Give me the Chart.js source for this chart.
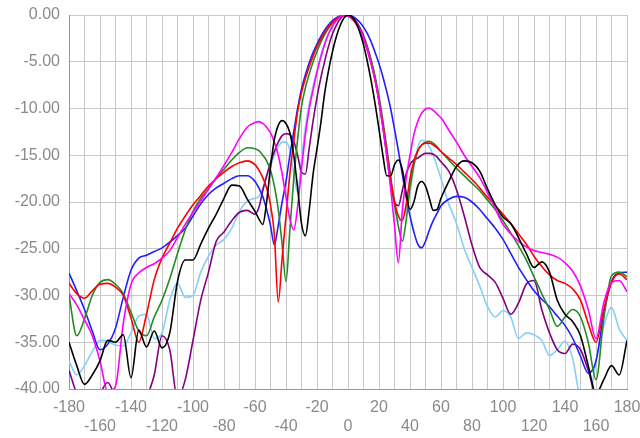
<!DOCTYPE html>
<html lang="en">
<head>
<meta charset="UTF-8">
<title>Radiation pattern</title>
<script src="https://cdn.jsdelivr.net/npm/chart.js@4.4.0/dist/chart.umd.min.js"></script>
<style>
    body { margin: 0; background: #fff; }
    #wrap { width: 640px; height: 438px; }
</style>
</head>
<body>
<div id="wrap"><canvas id="pattern" width="640" height="438"></canvas></div>
<script>
// angle grid (deg): 5 deg steps in the tails, 2.5 deg around the main lobe
const angles = [
    -180, -175, -170, -165, -160, -155, -150, -145, -140, -135, -130, -125, -120,
    -115, -110, -105, -100, -95, -90, -85, -80, -75, -70, -65, -60,
    -57.5, -55, -52.5, -50, -47.5, -45, -42.5, -40, -37.5, -35, -32.5, -30,
    -27.5, -25, -22.5, -20, -17.5, -15, -12.5, -10, -7.5, -5, -2.5, 0,
    2.5, 5, 7.5, 10, 12.5, 15, 17.5, 20, 22.5, 25, 27.5, 30,
    32.5, 35, 37.5, 40, 42.5, 45, 47.5, 50, 52.5, 55, 57.5,
    60, 65, 70, 75, 80, 85, 90, 95, 100, 105, 110, 115, 120,
    125, 130, 135, 140, 145, 150, 155, 160, 165, 170, 175, 180
];

// normalised gain (dB) per trace
const redTrace = [
    -28.7, -29.8, -30.3, -29.5, -28.8, -28.7, -29.1, -30, -32.4, -35, -32, -28.3, -26,
    -24.4, -22.8, -21.5, -20.3, -19.3, -18.3, -17.5, -16.8, -16.2, -15.8, -15.6, -16,
    -16.6, -17.4, -18.5, -20.3, -23.5, -30.7, -26, -21.5, -17, -13.5, -10.3, -8.3,
    -6.8, -5.5, -4.4, -3.4, -2.6, -1.86, -1.26, -0.77, -0.4, -0.15, 0, -0.1,
    -0.4, -0.9, -1.6, -2.6, -3.8, -5.3, -7, -9.2, -11.7, -14.5, -17.5, -20,
    -21.5, -22, -20.3, -17.5, -15.6, -14.5, -13.9, -13.7, -13.7, -13.9, -14.2,
    -14.6, -15.3, -16, -16.8, -17.6, -18.5, -19.5, -20.4, -21.3, -22.3, -23.4, -24.5, -25.8,
    -26.9, -27.8, -28.4, -28.7, -29.3, -30.5, -33, -35, -31.5, -28.6, -27.7, -28.3
];

const greenTrace = [
    -30, -34.3, -32.5, -30, -28.6, -28.3, -28.8, -29.8, -31.8, -33.8, -34.3, -32.3, -30.5,
    -28.2, -25.5, -23, -21, -19.6, -18.6, -17.4, -16.5, -15.5, -14.7, -14.2, -14.3,
    -14.5, -15, -15.6, -16.6, -18.3, -20.8, -24.5, -28.5, -23, -17.5, -13.3, -9.8,
    -7.8, -6.3, -5, -3.9, -2.9, -2.1, -1.4, -0.85, -0.45, -0.15, 0, -0.1,
    -0.35, -0.8, -1.5, -2.4, -3.5, -4.9, -6.6, -8.7, -11.3, -14.2, -17.3, -20.2,
    -22.6, -24.2, -22, -18.5, -16, -14.6, -13.9, -13.6, -13.5, -13.7, -14.1,
    -14.6, -15.5, -16.4, -17.2, -18, -18.8, -19.8, -20.8, -22, -23.3, -24.7, -26.2, -28,
    -29.8, -31.5, -33.3, -32.3, -31.5, -32.3, -35, -39, -32.5, -27.9, -27.5, -28
];

const magentaTrace = [
    -29.8, -31, -32.6, -34.3, -37, -40.3, -39.7, -33, -28.8, -27.6, -27, -26.6, -26,
    -25.2, -23.8, -22.4, -21.1, -19.9, -18.6, -17.4, -16.1, -14.7, -13.2, -12, -11.5,
    -11.4, -11.6, -12, -12.6, -13.6, -15, -17, -19.5, -21.8, -23, -20.5, -16.5,
    -12.8, -10, -8, -6.1, -4.5, -3.1, -2, -1.2, -0.6, -0.2, 0, -0.15,
    -0.3, -0.8, -1.5, -2.5, -3.7, -5.2, -7, -9.3, -12, -15, -18.5, -22.5,
    -26.5, -21, -17.5, -15, -12.8, -11.4, -10.5, -10.05, -9.95, -10.2, -10.6,
    -11, -12.3, -13.6, -15, -16.2, -17.4, -19, -20.7, -22.4, -23.4, -24.2, -24.8, -25.2,
    -25.4, -25.6, -25.9, -26.5, -27.4, -29, -31.5, -34.6, -30.8, -28.6, -28.4, -29.6
];

const blueTrace = [
    -27.6, -29.5, -31.5, -33.8, -35.8, -35.2, -33.5, -30.2, -27.3, -26, -25.7, -25.3, -24.9,
    -24.3, -23.6, -22.8, -21.5, -20.2, -19.2, -18.5, -18, -17.5, -17.2, -17.2, -17.8,
    -18.5, -19.4, -20.8, -22.5, -24.6, -22.5, -20, -17.8, -15, -12.5, -10, -7.9,
    -6.4, -5.1, -4, -3.1, -2.3, -1.6, -1.05, -0.6, -0.3, -0.1, 0, -0.05,
    -0.1, -0.35, -0.75, -1.3, -2, -2.9, -4, -5.2, -6.6, -8.2, -10, -12.2,
    -14.5, -17, -19.5, -21.5, -23.2, -24.5, -24.9, -24.2, -23, -22, -21.2,
    -20.4, -19.7, -19.4, -19.5, -20, -20.8, -21.8, -22.8, -24, -25.5, -27, -28.3, -29.5,
    -30.4, -31.2, -32.2, -33.2, -34.6, -36.5, -38.3, -37, -32, -28.5, -27.6, -27.5
];

const blackTrace = [
    -35, -37.5, -39.5, -38.5, -37, -34.8, -35, -34.2, -38.8, -33.7, -35.5, -33.8, -35.6,
    -34, -28.5, -26.2, -26.2, -24.5, -22.8, -21.3, -19.6, -18.2, -18.3, -19.7, -21,
    -21.8, -22.4, -20, -16.3, -13.3, -11.8, -11.3, -11.6, -12.6, -15, -18.5, -22.3,
    -23.6, -20.8, -17, -14.3, -11.5, -8.3, -5.9, -3.9, -2.3, -1.1, -0.3, 0,
    -0.2, -0.8, -1.8, -3.2, -5, -7.1, -9.5, -12.2, -15, -17.2, -17.2, -16,
    -15.5, -16.5, -19, -20.8, -20, -18.3, -17.8, -18.3, -19.6, -20.9, -20.8,
    -19.6, -17.8, -16.2, -15.6, -15.8, -16.7, -18.6, -20.3, -21.6, -22.3, -23.8, -25.5, -27,
    -26.4, -27.5, -30.5, -32, -32.8, -34.3, -37.5, -40.5, -39, -37.5, -38.5, -34.8
];

const purpleTrace = [
    -38, -40.5, -42, -42, -40.5, -39.3, -41, -43, -44, -43, -41, -38.5, -34.3,
    -35.8, -41, -39, -34.8, -30.5, -27.5, -24.2, -23.2, -22, -21.1, -20.9, -21.3,
    -20.6, -18.8, -17.2, -15.8, -14.6, -13.6, -12.9, -12.7, -12.8, -13.5, -15, -16.8,
    -17, -14.2, -11.3, -8.8, -6.7, -4.9, -3.3, -2, -1.1, -0.4, -0.05, -0.05,
    -0.2, -0.6, -1.3, -2.2, -3.4, -4.9, -6.8, -9.2, -12, -15, -18, -20,
    -20.4, -18.8, -17, -16, -15.5, -15.3, -15, -14.8, -14.8, -14.9, -15.2,
    -15.7, -16.7, -18.7, -21.5, -24.6, -27, -27.8, -28.6, -30.3, -32, -30.8, -28.8, -28.4,
    -31.5, -34, -35.8, -36.2, -35.2, -35.8, -38, -41, -42, -42, -41.5, -41
];

const skyTrace = [
    -37, -38.5, -37.5, -36, -34.8, -34.9, -35.3, -35.4, -34, -32.2, -32, -34.6, -34,
    -30.5, -28.7, -30.2, -30, -27.5, -25.8, -24.6, -24, -22.8, -21, -19.9, -19.6,
    -19.4, -18.5, -17.3, -16.2, -15, -14.1, -13.6, -13.6, -14.5, -17, -19, -15.5,
    -12, -9.5, -7.6, -5.9, -4.3, -3, -1.9, -1.1, -0.5, -0.15, 0, -0.1,
    -0.2, -0.7, -1.4, -2.4, -3.6, -5, -6.8, -9, -11.6, -14.5, -17.5, -20.3,
    -22, -21.8, -20.8, -19, -16.3, -14.2, -13.4, -13.5, -14.1, -15, -16.2,
    -17.5, -20.2, -22.3, -25, -27, -29, -31.2, -32.3, -31.6, -32.3, -34.6, -34, -34.2,
    -34.8, -36.4, -35.8, -34.9, -36.8, -41, -41.5, -37, -33.3, -31.3, -33.6, -34.8
];

const traces = [
    { values: blackTrace,   color: '#000000' },
    { values: magentaTrace, color: '#ff00ff' },
    { values: redTrace,     color: '#ff0000' },
    { values: greenTrace,   color: '#238b23' },
    { values: blueTrace,    color: '#1f1fff' },
    { values: purpleTrace,  color: '#800080' },
    { values: skyTrace,     color: '#87cefa' }
];

const axisFont = { family: '"Liberation Sans", Arial, sans-serif', size: 16 };
const labelGrey = '#8a8a8a';

new Chart(document.getElementById('pattern'), {
    type: 'line',
    data: {
        datasets: traces.map(t => ({
            data: angles.map((a, i) => ({ x: a, y: t.values[i] })),
            borderColor: t.color,
            borderWidth: 1.6,
            pointRadius: 0,
            fill: false,
            cubicInterpolationMode: 'monotone'
        }))
    },
    options: {
        responsive: false,
        animation: false,
        layout: { padding: { left: 14, top: 15, right: 0, bottom: 2 } },
        plugins: { legend: { display: false }, tooltip: { enabled: false } },
        scales: {
            x: {
                type: 'linear',
                min: -180,
                max: 180,
                grid: { color: '#c8c8c8', drawTicks: false, tickLength: 0 },
                border: { color: '#999999' },
                // fixed axis band: two label rows, 13px overhang on the right
                afterFit: s => {
                    s.height = 47;
                    s.paddingRight = 13;
                },
                ticks: {
                    stepSize: 10,
                    autoSkip: false,
                    maxRotation: 0,
                    padding: 9,
                    color: labelGrey,
                    font: axisFont,
                    // labels every 20 deg, staggered over two rows
                    callback: v => {
                        if (v % 20 !== 0) return '';
                        const lower = ((v + 180) / 20) % 2 === 1;
                        return lower ? ['', String(v)] : [String(v), ''];
                    }
                }
            },
            y: {
                min: -40,
                max: 0,
                grid: { color: '#c8c8c8', drawTicks: false, tickLength: 0 },
                border: { color: '#999999' },
                afterFit: s => {
                    s.width = 55;
                    s.paddingTop = 0;
                    s.paddingBottom = 0;
                },
                ticks: {
                    stepSize: 5,
                    padding: 9,
                    color: labelGrey,
                    font: axisFont,
                    callback: v => v.toFixed(2)
                }
            }
        }
    }
});
</script>
</body>
</html>
